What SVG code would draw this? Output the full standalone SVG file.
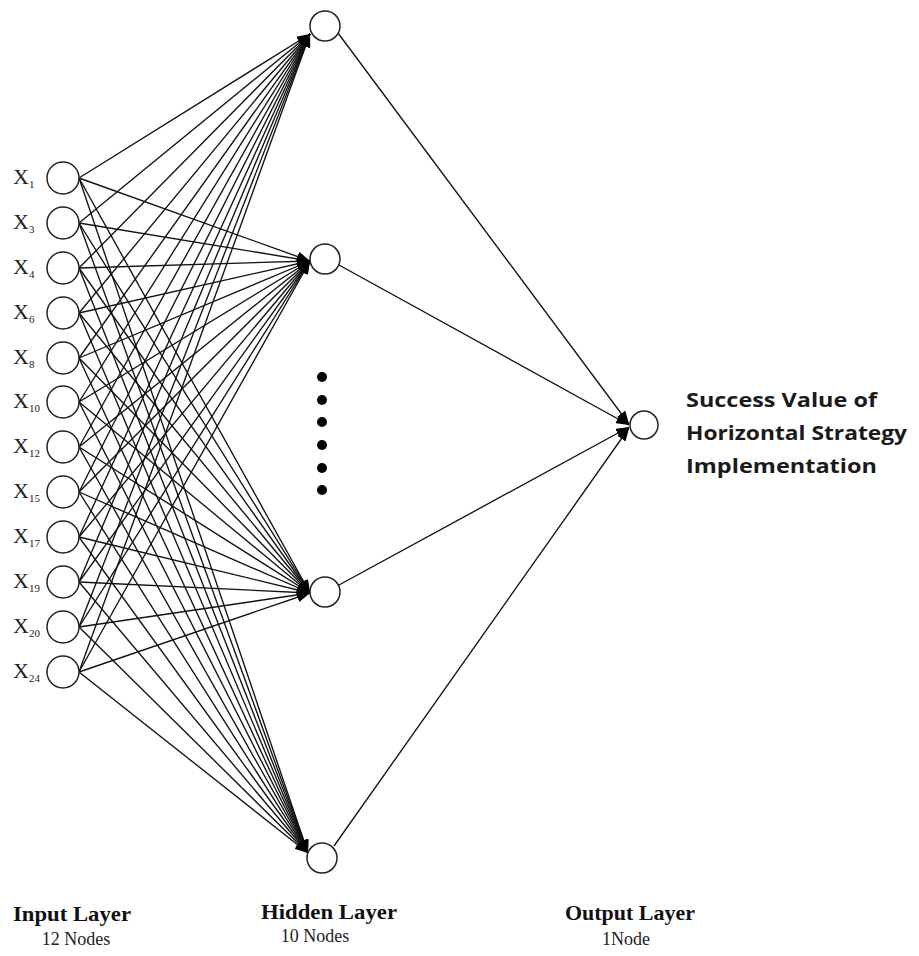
<svg xmlns="http://www.w3.org/2000/svg" width="919" height="956" viewBox="0 0 919 956">
<defs>
<marker id="arr" markerUnits="userSpaceOnUse" markerWidth="13" markerHeight="10" refX="13" refY="5" orient="auto">
<path d="M0,0 L13,5 L0,10 z" fill="#000"/>
</marker>
<style>
.node{fill:#fff;stroke:#222;stroke-width:1.5}
.c line{stroke:#111;stroke-width:1.35;marker-end:url(#arr)}
.xl{font-family:"Liberation Serif","Times New Roman",serif;font-size:22px;fill:#222}
.sub{font-size:11px}
.lay{font-family:"Liberation Serif","Times New Roman",serif;font-size:21px;font-weight:bold;fill:#111;text-anchor:middle}
.cnt{font-family:"Liberation Serif","Times New Roman",serif;font-size:18px;fill:#222;text-anchor:middle}
.ttl{font-family:"Open Sans","Liberation Sans",sans-serif;font-size:20px;font-weight:bold;fill:#1a1a1a}
</style>
</defs>
<rect width="919" height="956" fill="#fff"/>
<g id="connectors" class="c">
<line x1="79" y1="178" x2="310" y2="34"/><line x1="79" y1="178" x2="310" y2="261"/><line x1="79" y1="178" x2="310" y2="593"/><line x1="79" y1="178" x2="308" y2="853"/>
<line x1="79" y1="223" x2="310" y2="34"/><line x1="79" y1="223" x2="310" y2="261"/><line x1="79" y1="223" x2="310" y2="593"/><line x1="79" y1="223" x2="308" y2="853"/>
<line x1="79" y1="268" x2="310" y2="34"/><line x1="79" y1="268" x2="310" y2="261"/><line x1="79" y1="268" x2="310" y2="593"/><line x1="79" y1="268" x2="308" y2="853"/>
<line x1="79" y1="313" x2="310" y2="34"/><line x1="79" y1="313" x2="310" y2="261"/><line x1="79" y1="313" x2="310" y2="593"/><line x1="79" y1="313" x2="308" y2="853"/>
<line x1="79" y1="358" x2="310" y2="34"/><line x1="79" y1="358" x2="310" y2="261"/><line x1="79" y1="358" x2="310" y2="593"/><line x1="79" y1="358" x2="308" y2="853"/>
<line x1="79" y1="402" x2="310" y2="34"/><line x1="79" y1="402" x2="310" y2="261"/><line x1="79" y1="402" x2="310" y2="593"/><line x1="79" y1="402" x2="308" y2="853"/>
<line x1="79" y1="447" x2="310" y2="34"/><line x1="79" y1="447" x2="310" y2="261"/><line x1="79" y1="447" x2="310" y2="593"/><line x1="79" y1="447" x2="308" y2="853"/>
<line x1="79" y1="492" x2="310" y2="34"/><line x1="79" y1="492" x2="310" y2="261"/><line x1="79" y1="492" x2="310" y2="593"/><line x1="79" y1="492" x2="308" y2="853"/>
<line x1="79" y1="537" x2="310" y2="34"/><line x1="79" y1="537" x2="310" y2="261"/><line x1="79" y1="537" x2="310" y2="593"/><line x1="79" y1="537" x2="308" y2="853"/>
<line x1="79" y1="582" x2="310" y2="34"/><line x1="79" y1="582" x2="310" y2="261"/><line x1="79" y1="582" x2="310" y2="593"/><line x1="79" y1="582" x2="308" y2="853"/>
<line x1="79" y1="627" x2="310" y2="34"/><line x1="79" y1="627" x2="310" y2="261"/><line x1="79" y1="627" x2="310" y2="593"/><line x1="79" y1="627" x2="308" y2="853"/>
<line x1="79" y1="672" x2="310" y2="34"/><line x1="79" y1="672" x2="310" y2="261"/><line x1="79" y1="672" x2="310" y2="593"/><line x1="79" y1="672" x2="308" y2="853"/>
<line x1="338" y1="33" x2="629" y2="424"/>
<line x1="339" y1="265" x2="629" y2="425"/>
<line x1="339" y1="585" x2="629" y2="427"/>
<line x1="334" y1="846" x2="629" y2="428"/>
</g>
<g id="input-layer">
<g id="in-x1"><circle class="node" cx="63" cy="178" r="16"/><text class="xl" x="13" y="184">X<tspan class="sub" dy="4">1</tspan></text></g>
<g id="in-x3"><circle class="node" cx="63" cy="223" r="16"/><text class="xl" x="13" y="229">X<tspan class="sub" dy="4">3</tspan></text></g>
<g id="in-x4"><circle class="node" cx="63" cy="268" r="16"/><text class="xl" x="13" y="274">X<tspan class="sub" dy="4">4</tspan></text></g>
<g id="in-x6"><circle class="node" cx="63" cy="313" r="16"/><text class="xl" x="13" y="319">X<tspan class="sub" dy="4">6</tspan></text></g>
<g id="in-x8"><circle class="node" cx="63" cy="358" r="16"/><text class="xl" x="13" y="364">X<tspan class="sub" dy="4">8</tspan></text></g>
<g id="in-x10"><circle class="node" cx="63" cy="402" r="16"/><text class="xl" x="13" y="408">X<tspan class="sub" dy="4">10</tspan></text></g>
<g id="in-x12"><circle class="node" cx="63" cy="447" r="16"/><text class="xl" x="13" y="453">X<tspan class="sub" dy="4">12</tspan></text></g>
<g id="in-x15"><circle class="node" cx="63" cy="492" r="16"/><text class="xl" x="13" y="498">X<tspan class="sub" dy="4">15</tspan></text></g>
<g id="in-x17"><circle class="node" cx="63" cy="537" r="16"/><text class="xl" x="13" y="543">X<tspan class="sub" dy="4">17</tspan></text></g>
<g id="in-x19"><circle class="node" cx="63" cy="582" r="16"/><text class="xl" x="13" y="588">X<tspan class="sub" dy="4">19</tspan></text></g>
<g id="in-x20"><circle class="node" cx="63" cy="627" r="16"/><text class="xl" x="13" y="633">X<tspan class="sub" dy="4">20</tspan></text></g>
<g id="in-x24"><circle class="node" cx="63" cy="672" r="16"/><text class="xl" x="13" y="678">X<tspan class="sub" dy="4">24</tspan></text></g>
</g>
<g id="hidden-layer">
<g id="h1"><circle class="node" cx="325" cy="26" r="15"/></g>
<g id="h2"><circle class="node" cx="325" cy="259" r="15"/></g>
<g id="h-ellipsis" fill="#000">
<circle cx="322" cy="377" r="5"/><circle cx="322" cy="400" r="5"/><circle cx="322" cy="422" r="5"/><circle cx="322" cy="445" r="5"/><circle cx="322" cy="468" r="5"/><circle cx="322" cy="490" r="5"/>
</g>
<g id="h9"><circle class="node" cx="325" cy="592" r="15"/></g>
<g id="h10"><circle class="node" cx="322" cy="858" r="15"/></g>
</g>
<g id="output-layer">
<g id="out"><circle class="node" cx="644" cy="425" r="14"/></g>
<g id="out-label">
<text class="ttl" x="686" y="407" textLength="191" lengthAdjust="spacingAndGlyphs">Success Value of</text>
<text class="ttl" x="686" y="440" textLength="221" lengthAdjust="spacingAndGlyphs">Horizontal Strategy</text>
<text class="ttl" x="686" y="473" textLength="191" lengthAdjust="spacingAndGlyphs">Implementation</text>
</g>
</g>
<g id="layer-labels">
<text class="lay" x="72" y="921" textLength="118" lengthAdjust="spacingAndGlyphs">Input Layer</text>
<text class="cnt" x="76" y="945">12 Nodes</text>
<text class="lay" x="329" y="919" textLength="136" lengthAdjust="spacingAndGlyphs">Hidden Layer</text>
<text class="cnt" x="315" y="942">10 Nodes</text>
<text class="lay" x="630" y="920" textLength="130" lengthAdjust="spacingAndGlyphs">Output Layer</text>
<text class="cnt" x="626" y="945">1Node</text>
</g>
</svg>
